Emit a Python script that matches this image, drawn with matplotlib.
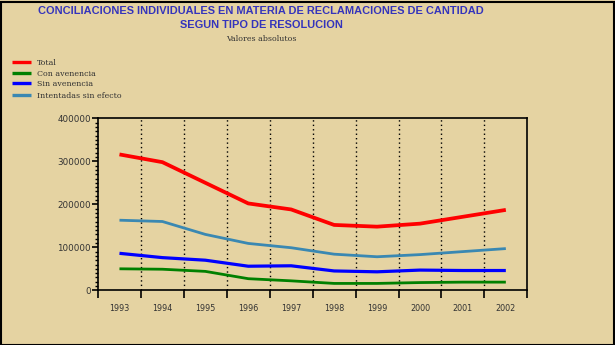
import matplotlib
matplotlib.use("Agg")
import matplotlib.pyplot as plt
from matplotlib.lines import Line2D
from matplotlib.patches import Rectangle
from matplotlib.ticker import MultipleLocator, FixedLocator, NullFormatter, FixedFormatter

years = ["1993", "1994", "1995", "1996", "1997", "1998", "1999", "2000", "2001", "2002"]
total = [316000, 298000, 250000, 202000, 188000, 152000, 148000, 155000, 171000, 187000]
con_avenencia = [50000, 49000, 44000, 27000, 22000, 16000, 16000, 18000, 19000, 19000]
sin_avenencia = [86000, 76000, 70000, 56000, 57000, 45000, 43000, 47000, 46000, 46000]
intentadas = [163000, 160000, 130000, 109000, 99000, 84000, 78000, 83000, 90000, 97000]

series_names = ["Total", "Con avenencia", "Sin avenencia", "Intentadas sin efecto"]
series_vals = [total, con_avenencia, sin_avenencia, intentadas]
colors = ["#FF0000", "#008000", "#0000FF", "#3A88B2"]
widths = [2.7, 2.0, 2.3, 2.0]

BG = "#E5D3A2"
W, H = 615, 345
fig = plt.figure(figsize=(W / 100, H / 100), dpi=100, facecolor=BG)

# figure border
fig.patches.append(Rectangle((0.5 / W, 0.5 / H), 1 - 2 / W, 1 - 2 / H, transform=fig.transFigure,
                             fill=False, edgecolor="black", linewidth=1.5))

ax = fig.add_axes([98 / W, 1 - 290.3 / H, (527.3 - 98) / W, (290.3 - 118.3) / H])
ax.set_facecolor(BG)

x = list(range(len(years)))
for vals, c, lw in zip(series_vals, colors, widths):
    ax.plot(x, vals, color=c, linewidth=lw, solid_capstyle="butt", zorder=3)

ax.set_xlim(-0.5, len(years) - 0.5)
ax.set_ylim(0, 400000)

# vertical dotted separators
for b in range(len(years) - 1):
    ax.axvline(b + 0.5, color="black", linestyle=(0, (1, 2.2)), linewidth=1.0, zorder=1)

# x ticks: marks at category boundaries, labels at centers
ax.xaxis.set_major_locator(FixedLocator([i - 0.5 for i in range(len(years) + 1)]))
ax.xaxis.set_major_formatter(NullFormatter())
ax.xaxis.set_minor_locator(FixedLocator(x))
ax.xaxis.set_minor_formatter(FixedFormatter(years))
ax.tick_params(axis="x", which="major", direction="out", length=6, width=1.2, color="black")
ax.tick_params(axis="x", which="minor", length=0, pad=10, labelsize=5.8, labelcolor="#333333")

ax.yaxis.set_major_locator(MultipleLocator(100000))
ax.yaxis.set_minor_locator(MultipleLocator(10000))
ax.yaxis.set_major_formatter(matplotlib.ticker.FuncFormatter(lambda v, p: f"{int(v)}"))
ax.tick_params(axis="y", which="major", direction="out", length=4.5, width=1.2, labelsize=6.3,
               labelcolor="#333333", pad=0.5)
ax.tick_params(axis="y", which="minor", direction="out", length=2.5, width=1.0)

for lbl in ax.get_xticklabels(minor=True) + ax.get_yticklabels():
    lbl.set_fontfamily("DejaVu Sans")

for s in ax.spines.values():
    s.set_linewidth(1.2)
    s.set_color("black")

# titles
cx = 261 / W
fig.text(cx, 1 - 10.5 / H, "CONCILIACIONES INDIVIDUALES EN MATERIA DE RECLAMACIONES DE CANTIDAD",
         ha="center", va="center", color="#3434BC", fontsize=7.9, fontweight="bold",
         family="Liberation Sans")
fig.text(cx, 1 - 25 / H, "SEGUN TIPO DE RESOLUCION", ha="center", va="center", color="#3434BC",
         fontsize=7.9, fontweight="bold", family="Liberation Sans")
fig.text(cx, 1 - 39 / H, "Valores absolutos", ha="center", va="center", color="#333333",
         fontsize=5.7, family="DejaVu Serif")

# legend
leg_y = [61.5, 72.5, 83, 95]
for name, c, yy in zip(series_names, colors, leg_y):
    fig.add_artist(Line2D([12 / W, 31 / W], [1 - yy / H, 1 - yy / H], color=c, linewidth=2.4,
                          transform=fig.transFigure, solid_capstyle="butt"))
    fig.text(37 / W, 1 - (yy + 1.5) / H, name, ha="left", va="center", color="#333333",
             fontsize=5.7, family="DejaVu Serif")

fig.savefig("out.png", dpi=100, facecolor=BG)
